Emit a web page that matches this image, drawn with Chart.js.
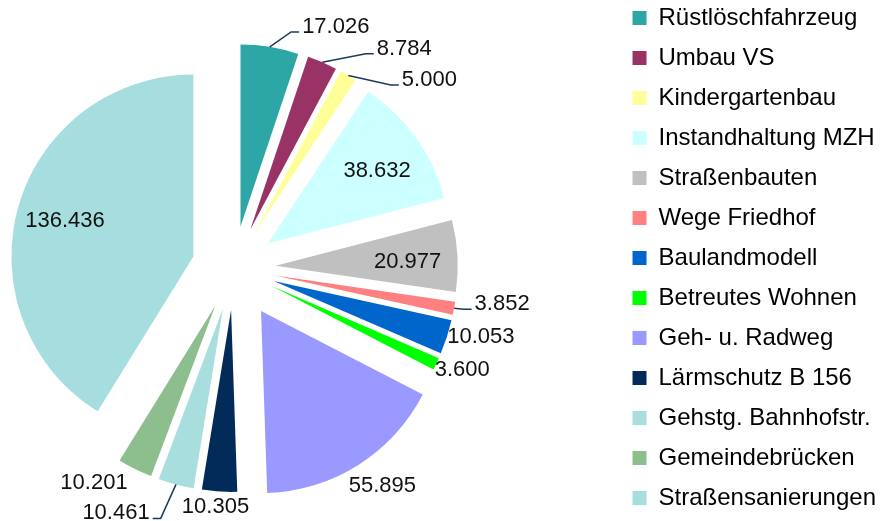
<!DOCTYPE html>
<html>
<head>
<meta charset="utf-8">
<script src="https://cdn.jsdelivr.net/npm/chart.js@4.4.1/dist/chart.umd.min.js"></script>
<style>
  html, body { margin: 0; padding: 0; background: #fff; overflow: hidden; }
  #wrap { position: relative; width: 889px; height: 521px; overflow: hidden; }
  #chart { position: absolute; left: -154px; top: -10px; }
</style>
</head>
<body>
<div id="wrap"><canvas id="chart" width="1043" height="560"></canvas></div>
<script>
  // Kategorien
  const categories = [
    "Rüstlöschfahrzeug", "Umbau VS", "Kindergartenbau", "Instandhaltung MZH",
    "Straßenbauten", "Wege Friedhof", "Baulandmodell", "Betreutes Wohnen",
    "Geh- u. Radweg", "Lärmschutz B 156", "Gehstg. Bahnhofstr.", "Gemeindebrücken",
    "Straßensanierungen"
  ];

  // Beträge
  const amounts = [17026, 8784, 5000, 38632, 20977, 3852, 10053, 3600, 55895, 10305, 10461, 10201, 136436];

  // Farben
  const sliceColors = [
    "#2CA7A6", "#993366", "#FFFF99", "#CCFFFF", "#C0C0C0", "#FF8080", "#0066CC",
    "#00FF00", "#9999FF", "#032B5A", "#A8DEDE", "#8DBE8D", "#A6DEDF"
  ];

  // Explosion der Segmente (px)
  const explode = [42, 42, 42, 42, 42, 42, 42, 42, 51, 42, 42, 42, 42];

  // Beschriftung: innen (Anteil vom Radius) oder außen (Verschiebung vom Bogen)
  const labelInside = [false, false, false, true, true, false, false, false, false, false, false, false, true];
  const labelDepth  = [0, 0, 0, 0.75, 0.77, 0, 0, 0, 0, 0, 0, 0, 0.71];
  const labelShift  = [[66, -20], [82, -13.5], [81, 4.5], [-2, 7], [-8, 4], [48, -4], [34, 0],
                       [26, 6], [24, 21], [-4, 15.5], [-60, 29], [-41, 14], [-4, 0]];
  const hasLeader   = [true, true, true, false, false, true, false, false, false, false, true, false, false];

  function fmt(v) {
    return String(v).replace(/\B(?=(\d{3})+(?!\d))/g, ".");
  }

  // Segment ohne Vergrößerung beim Herausziehen
  class ExplodedArc extends Chart.ArcElement {
    draw(ctx) {
      const { x, y, startAngle, endAngle, outerRadius, options } = this;
      if (endAngle - startAngle <= 0) return;
      const mid = (startAngle + endAngle) / 2;
      const o = options.offset || 0;
      const cx = x + Math.cos(mid) * o;
      const cy = y + Math.sin(mid) * o;
      ctx.save();
      ctx.fillStyle = options.backgroundColor;
      ctx.beginPath();
      ctx.moveTo(cx, cy);
      ctx.arc(cx, cy, outerRadius, startAngle, endAngle);
      ctx.closePath();
      ctx.fill();
      ctx.restore();
    }
  }
  ExplodedArc.id = "explodedArc";

  class ExplodedPieController extends Chart.PieController {}
  ExplodedPieController.id = "explodedPie";
  ExplodedPieController.defaults = { dataElementType: "explodedArc" };

  Chart.register(ExplodedArc, ExplodedPieController);

  // Werte-Beschriftungen
  const sliceLabels = {
    id: "sliceLabels",
    afterDatasetsDraw(chart) {
      const ctx = chart.ctx;
      const meta = chart.getDatasetMeta(0);
      ctx.save();
      ctx.font = '22px "Liberation Sans", Arial, sans-serif';
      ctx.fillStyle = "#111";
      ctx.strokeStyle = "#1C3A5E";
      ctx.lineWidth = 1.5;
      ctx.textAlign = "center";
      ctx.textBaseline = "middle";
      meta.data.forEach((arc, i) => {
        const mid = (arc.startAngle + arc.endAngle) / 2;
        const cos = Math.cos(mid), sin = Math.sin(mid);
        const o = arc.options.offset || 0;
        const r = arc.outerRadius;
        const text = fmt(amounts[i]);
        let tx, ty;
        if (labelInside[i]) {
          const d = o + labelDepth[i] * r;
          tx = arc.x + cos * d + labelShift[i][0];
          ty = arc.y + sin * d + labelShift[i][1];
        } else {
          const ax = arc.x + cos * (o + r), ay = arc.y + sin * (o + r);
          tx = ax + labelShift[i][0];
          ty = ay + labelShift[i][1];
          if (hasLeader[i]) {
            const w = ctx.measureText(text).width;
            const side = tx > ax ? -1 : 1;
            const ex = tx + side * (w / 2 + 3), ey = ty + 5;
            ctx.beginPath();
            ctx.moveTo(ax, ay);
            ctx.lineTo(ex + side * 8, ey);
            ctx.lineTo(ex, ey);
            ctx.stroke();
          }
        }
        ctx.fillText(text, tx, ty);
      });
      ctx.restore();
    }
  };

  const ctx = document.getElementById("chart").getContext("2d");
  new Chart(ctx, {
    type: "explodedPie",
    data: {
      labels: categories,
      datasets: [{
        data: amounts,
        backgroundColor: sliceColors,
        borderWidth: 0,
        offset: explode,
        radius: 182
      }]
    },
    options: {
      responsive: false,
      maintainAspectRatio: false,
      animation: false,
      layout: { padding: { left: 5, right: 3, top: 0, bottom: 4 } },
      plugins: {
        legend: {
          position: "right",
          align: "start",
          labels: {
            boxWidth: 14,
            boxHeight: 14,
            padding: 16,
            color: "#000",
            font: { family: '"Liberation Sans", Arial, sans-serif', size: 24 }
          }
        },
        tooltip: { enabled: false }
      }
    },
    plugins: [sliceLabels]
  });
</script>
</body>
</html>
